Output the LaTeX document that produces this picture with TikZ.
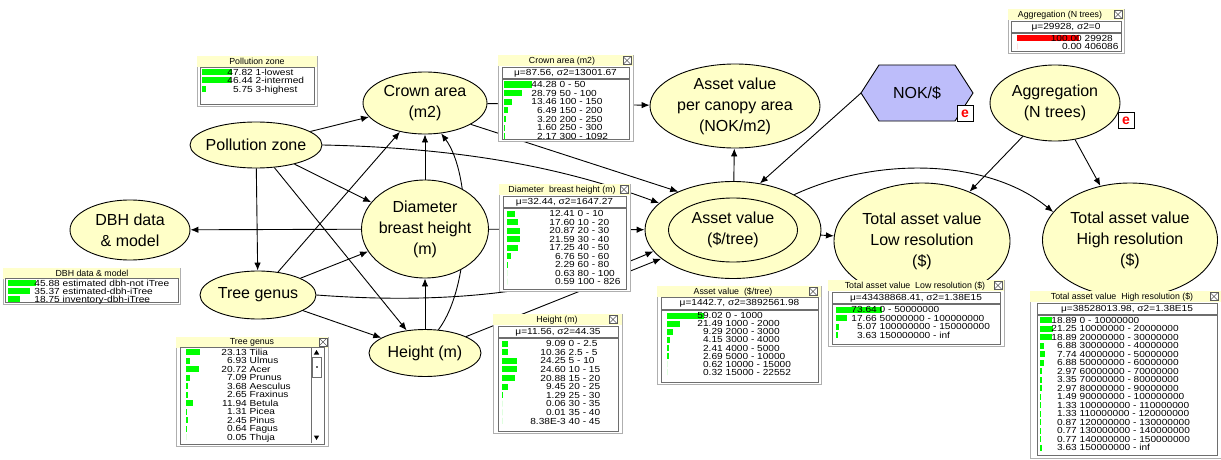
\documentclass[tikz,border=0pt]{standalone}
\usepackage{fontspec}
\setmainfont{Liberation Sans}
\newfontfamily\tabfont[FakeStretch=1.15]{Liberation Sans}
\usetikzlibrary{shapes.geometric,arrows.meta,calc,backgrounds}
\definecolor{nodefill}{RGB}{255,255,200}
\definecolor{titlefill}{RGB}{255,255,204}
\definecolor{hexfill}{RGB}{189,189,250}
\definecolor{bargreen}{RGB}{0,255,0}
\definecolor{barred}{RGB}{255,0,0}
\definecolor{winborder}{RGB}{175,175,175}
\definecolor{boxborder}{RGB}{110,110,110}
\definecolor{ered}{RGB}{255,0,0}
\tikzset{
  bn/.style={ellipse, draw=black, line width=0.9pt, fill=nodefill, inner xsep=-10pt, inner ysep=-5pt, align=center, font=\fontsize{16}{21}\selectfont},
  bnin/.style={ellipse, draw=black, line width=0.9pt, inner xsep=-10pt, inner ysep=-5pt, align=center, font=\fontsize{16}{21}\selectfont},
  link/.style={draw=black, line width=0.9pt, -{Latex[length=8pt,width=6.5pt]}},
  ttl/.style={inner sep=0pt, font=\fontsize{8.8}{9}\selectfont},
  tt/.style={inner sep=0pt, font=\tabfont\fontsize{8.8}{9}\selectfont},
  ebox/.style={draw=black, line width=0.6pt, fill=white, minimum width=16pt, minimum height=16pt, inner sep=0pt, text=ered, font=\fontsize{14}{14}\selectfont\bfseries},
  closebx/.style={draw=black!65, fill=white, line width=0.5pt, minimum size=8pt, inner sep=0pt,
    path picture={\draw[black!65, line width=0.5pt] (path picture bounding box.north west) -- (path picture bounding box.south east) (path picture bounding box.north east) -- (path picture bounding box.south west);}},
  boxline/.style={draw=boxborder, line width=0.6pt}
}
% #1 name, #2 L, #3 T, #4 R, #5 B, #6 title, #7 title centre x
\newcommand\mwin[7]{%
  \draw[draw=winborder, fill=white, line width=0.8pt] (#2,#3) rectangle (#4,#5);
  \fill[titlefill] (#2+0.4,#3+0.4) rectangle (#4-0.4,#3+10.8);
  \node[ttl] (#1-title) at (#7,#3+5.8) {#6};}
\newcommand\mclose[3]{\node[closebx] (#1-close) at (#2,#3) {};}
% name, L, T, R, B, text
\newcommand\mmu[6]{%
  \draw[boxline] (#2,#3) rectangle (#4,#5);
  \node[tt] (#1-mu) at ({(#2+#4)/2},{(#3+#5)/2+0.5}) {#6};}
\newcommand\mrowbox[4]{\draw[boxline] (#1,#2) rectangle (#3,#4);}
% name, bar x0, number right x, y0, dy, colour, list
\newcommand\mrows[7]{%
  \foreach \vv/\ll/\ww [count=\i from 0] in {#7} {
    \fill[#6] (#2,#4+\i*#5-3) rectangle ++(\ww,6);
    \node[tt, anchor=base east] (#1-n\i) at (#3,#4+\i*#5+3.1) {\vv};
    \node[tt, anchor=base west] (#1-l\i) at (#3+2.5,#4+\i*#5+3.1) {\ll};
  }}
\begin{document}
\begin{tikzpicture}[x=1pt,y=-1pt]
\useasboundingbox (0,0) rectangle (1221,460);
% ---------- nodes ----------
\node[bn, minimum width=132, minimum height=46] (pz) at (256,145) {Pollution zone};
\node[bn, minimum width=124, minimum height=62] (crown) at (425,103) {Crown area\\(m2)};
\node[bn, minimum width=120, minimum height=60] (dbh) at (130,230) {DBH data\\\& model};
\node[bn, minimum width=127, minimum height=98] (diam) at (425,229) {Diameter\\breast height\\(m)};
\node[bn, minimum width=116, minimum height=48] (tree) at (258,295) {Tree genus};
\node[bn, minimum width=112, minimum height=47] (height) at (425,353) {Height (m)};
\node[bn, minimum width=170, minimum height=84] (canopy) at (735,106) {Asset value\\per canopy area\\(NOK/m2)};
\node[bn, minimum width=130, minimum height=76] (agg) at (1055,103) {Aggregation\\(N trees)};
\node[bn, minimum width=176, minimum height=97] (asset) at (733,230) {};
\node[bnin, minimum width=129, minimum height=64] (assetin) at (733,230) {Asset value\\(\$/tree)};
\node[bn, minimum width=176, minimum height=116] (low) at (922,241) {Total asset value\\Low resolution\\(\$)};
\node[bn, minimum width=175, minimum height=114] (high) at (1130,240) {Total asset value\\High resolution\\(\$)};
% NOK/$ hexagon
\coordinate (nokc) at (917,93);
\coordinate (nokw) at (861,93);
\draw[fill=hexfill, line width=0.9pt] (nokw) -- ($(nokc)+(-38,-28)$) -- ($(nokc)+(38,-28)$) -- ($(nokc)+(56,0)$) -- ($(nokc)+(38,28)$) -- ($(nokc)+(-38,28)$) -- cycle;
\node[font=\fontsize{16}{21}\selectfont, inner sep=0pt] (nok) at (nokc) {NOK/\$};
\node[ebox] (nok-e) at (965,113.5) {e};
\node[ebox] (agg-e) at (1126,120.5) {e};
% ---------- links ----------
\begin{scope}[on background layer]
\fill[white] (0,0) rectangle (1221,460);
\draw[link] (pz) -- (crown);
\draw[link] (pz) -- (diam);
\draw[link] (pz) -- (tree);
\draw[link] (pz) -- (height);
\draw[link] (pz.east) .. controls (470,148) and (570,170) .. (asset.160);
\draw[link] (tree) -- (crown);
\draw[link] (tree) -- (diam);
\draw[link] (tree) -- (height);
\draw[link] (tree.east) .. controls (450,305) and (560,292) .. (asset.195);
\draw[link] (diam) -- (dbh);
\draw[link] (diam) -- (crown);
\draw[link] (diam) -- (asset);
\draw[link] (height) -- (diam);
\draw[link] (height.60) .. controls (472,285) and (472,175) .. (crown.-62);
\draw[link] (height) -- (asset);
\draw[link] (crown) -- (canopy);
\draw[link] (crown.-25) -- (asset.145);
\draw[link] (asset) -- (canopy);
\draw[link] (nokw) -- (asset.60);
\draw[link] (asset) -- (low);
\draw[link] (asset.30) .. controls (880,155) and (990,160) .. (high.160);
\draw[link] (agg) -- (low);
\draw[link] (agg) -- (high);
\end{scope}
% ---------- monitor windows ----------
% Aggregation
\mwin{aggt}{1008}{9}{1124}{53}{Aggregation (N trees)}{1060}
\mclose{aggt}{1118}{14.5}
\mmu{aggt}{1011}{21}{1121}{32}{μ=29928, σ2=0}
\mrowbox{1011}{33}{1121}{51}
\mrows{aggt}{1017}{1082}{38}{8.5}{barred}{100.00/29928/62, 0.00/406086/0}
% Pollution zone
\mwin{pzt}{197}{56}{317}{106}{Pollution zone}{257}
\mrowbox{200}{67}{314}{104}
\mrows{pzt}{202}{253}{72}{8.5}{bargreen}{47.82/1-lowest/29.6, 46.44/2-intermed/28.8, 5.75/3-highest/3.6}
% Crown area
\mwin{ct}{498}{55}{633}{141}{Crown area (m2)}{562}
\mclose{ct}{627}{60.5}
\mmu{ct}{502}{67}{629}{78}{μ=87.56, σ2=13001.67}
\mrowbox{502}{79}{629}{139}
\mrows{ct}{504}{557}{84.5}{8.6}{bargreen}{44.28/0 - 50/27.5, 28.79/50 - 100/17.8, 13.46/100 - 150/8.3, 6.49/150 - 200/4.0, 3.20/200 - 250/2.0, 1.60/250 - 300/1.0, 2.17/300 - 1092/1.3}
% Diameter breast height
\mwin{dt}{499}{184}{630}{291}{Diameter\ \ breast height (m)}{562}
\mclose{dt}{624}{189.5}
\mmu{dt}{503}{196}{626}{207}{μ=32.44, σ2=1647.27}
\mrowbox{503}{208}{626}{289}
\mrows{dt}{507}{575}{213.5}{8.5}{bargreen}{12.41/0 - 10/7.7, 17.60/10 - 20/10.9, 20.87/20 - 30/12.9, 21.59/30 - 40/13.4, 17.25/40 - 50/10.7, 6.76/50 - 60/4.2, 2.29/60 - 80/1.4, 0.63/80 - 100/0, 0.59/100 - 826/0}
% DBH data & model
\mwin{dbht}{3}{268}{180}{304}{DBH data \& model}{92}
\mrowbox{5}{278}{178}{302}
\mrows{dbht}{8}{60}{283}{8}{bargreen}{45.88/estimated dbh-not iTree/28.4, 35.37/estimated-dbh-iTree/21.9, 18.75/inventory-dbh-iTree/11.6}
% Tree genus
\mwin{treet}{176}{337}{328}{446}{Tree genus}{252}
\mclose{treet}{323}{342}
\mrowbox{180}{347}{324}{444}
\mrows{treet}{186}{247}{352}{8.5}{bargreen}{23.13/Tilia/14.3, 6.93/Ulmus/4.3, 20.72/Acer/12.8, 7.09/Prunus/4.4, 3.68/Aesculus/2.3, 2.65/Fraxinus/1.6, 11.94/Betula/7.4, 1.31/Picea/0.8, 2.45/Pinus/1.5, 0.64/Fagus/0.4, 0.05/Thuja/0}
\draw[boxline] (311,348) -- (311,443);
\fill[black] (316.5,350) -- (313.8,354.5) -- (319.2,354.5) -- cycle;
\draw[boxline, fill=white] (312.5,357) rectangle (321,377);
\fill[black!60] (315.8,366) rectangle (317.8,368);
\fill[black] (313.8,435.5) -- (319.2,435.5) -- (316.5,440) -- cycle;
% Height
\mwin{ht}{493}{314}{622}{433}{Height (m)}{557}
\mclose{ht}{613}{319.5}
\mmu{ht}{498}{326}{618}{337}{μ=11.56, σ2=44.35}
\mrowbox{498}{338}{618}{431}
\mrows{ht}{502}{566}{343.5}{8.6}{bargreen}{9.09/0 - 2.5/5.6, 10.36/2.5 - 5/6.4, 24.25/5 - 10/15.0, 24.60/10 - 15/15.3, 20.88/15 - 20/12.9, 9.45/20 - 25/5.9, 1.29/25 - 30/0.8, 0.06/30 - 35/0, 0.01/35 - 40/0, 8.38E-3/40 - 45/0}
% Asset value
\mwin{at}{657}{286}{821}{384}{Asset value\ \ (\$/tree)}{733}
\mclose{at}{813}{291.5}
\mmu{at}{661}{297}{818}{309}{μ=1442.7, σ2=3892561.98}
\mrowbox{661}{310}{818}{382}
\mrows{at}{667}{723}{315.5}{8.1}{bargreen}{59.02/0 - 1000/36.6, 21.49/1000 - 2000/13.3, 9.29/2000 - 3000/5.8, 4.15/3000 - 4000/2.6, 2.41/4000 - 5000/1.5, 2.69/5000 - 10000/1.7, 0.62/10000 - 15000/0, 0.32/15000 - 22552/0}
% Total asset value Low resolution
\mwin{lt}{828}{280}{1004}{346}{Total asset value\ \ Low resolution (\$)}{915}
\mclose{lt}{998}{285.5}
\mmu{lt}{832}{292}{1000}{303}{μ=43438868.41, σ2=1.38E15}
\mrowbox{832}{304}{1000}{344}
\mrows{lt}{836}{877}{309.5}{8.6}{bargreen}{73.64/0 - 50000000/45.7, 17.66/50000000 - 100000000/10.9, 5.07/100000000 - 150000000/3.1, 3.63/150000000 - inf/2.3}
% Total asset value High resolution
\mwin{hgt}{1030}{291}{1221}{458}{Total asset value\ \ High resolution (\$)}{1122}
\mclose{hgt}{1214}{296.5}
\mmu{hgt}{1037}{303}{1217}{314}{μ=38528013.98, σ2=1.38E15}
\mrowbox{1037}{315}{1217}{455}
\mrows{hgt}{1040}{1077}{320}{8.5}{bargreen}{18.89/0 - 10000000/11.7, 21.25/10000000 - 20000000/13.2, 18.89/20000000 - 30000000/11.7, 6.88/30000000 - 40000000/4.3, 7.74/40000000 - 50000000/4.8, 6.88/50000000 - 60000000/4.3, 2.97/60000000 - 70000000/1.8, 3.35/70000000 - 80000000/2.1, 2.97/80000000 - 90000000/1.8, 1.49/90000000 - 100000000/0.9, 1.33/100000000 - 110000000/0.8, 1.33/110000000 - 120000000/0.8, 0.87/120000000 - 130000000/0.5, 0.77/130000000 - 140000000/0.5, 0.77/140000000 - 150000000/0.5, 3.63/150000000 - inf/2.3}
\end{tikzpicture}
\end{document}
